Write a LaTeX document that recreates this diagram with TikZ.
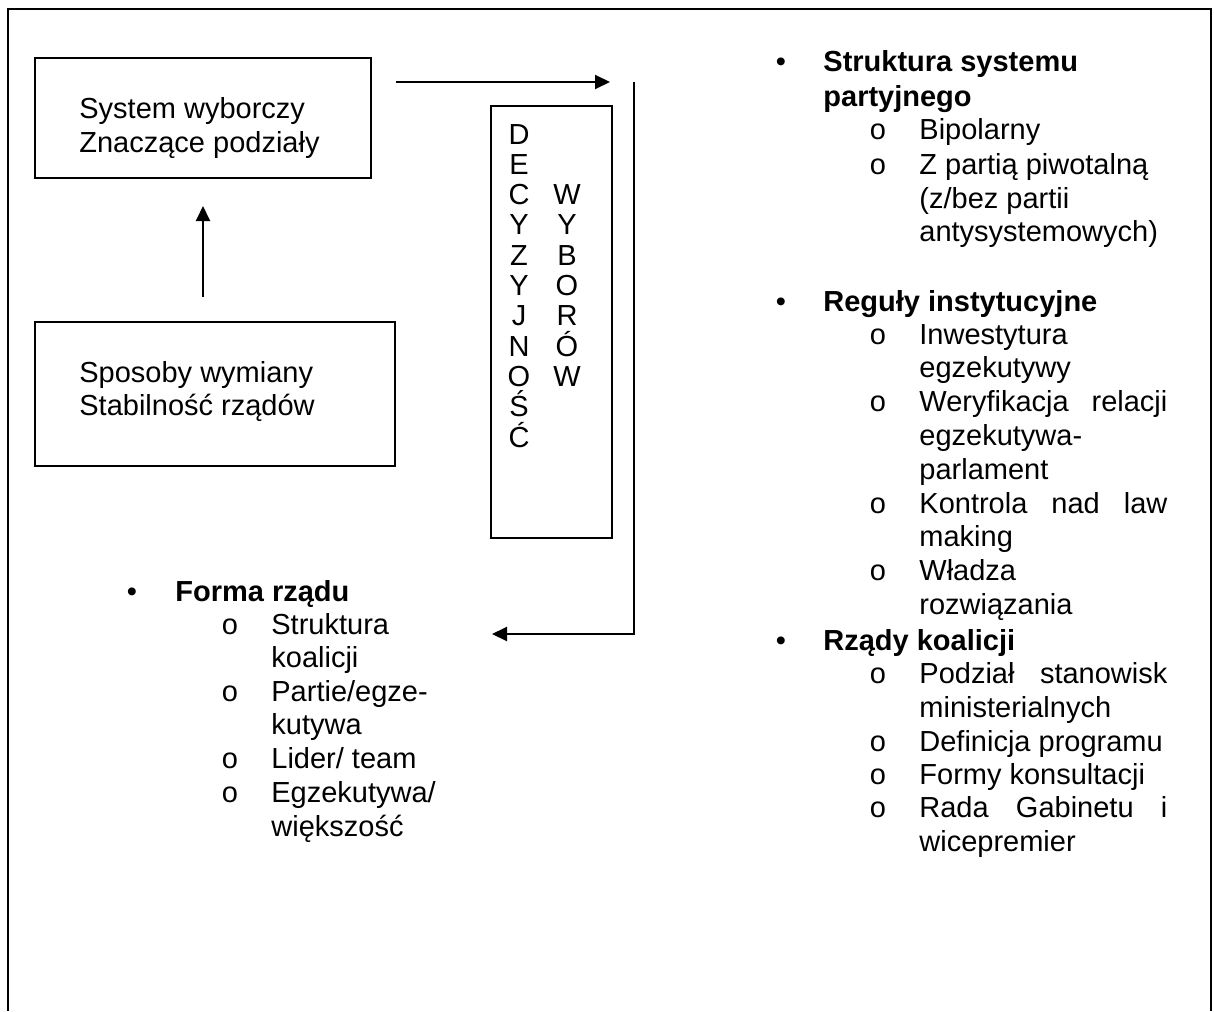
\documentclass[tikz,border=0pt]{standalone}
\usepackage{fontspec}
\setmainfont{Liberation Sans}
\usetikzlibrary{arrows.meta, calc}
\tikzset{
  frame/.style={draw, line width=1pt},
  box/.style={draw, line width=1pt, inner sep=0pt},
  txt/.style={font=\fontsize{14.5}{17}\selectfont, inner sep=0pt, anchor=base west},
  headtxt/.style={txt, font=\fontsize{14.5}{17}\selectfont\bfseries},
  bul/.style={font=\fontsize{14.5}{17}\selectfont, inner sep=0pt, anchor=base},
  letter/.style={font=\fontsize{14.5}{17}\selectfont, inner sep=0pt, anchor=base},
  arr/.style={line width=1pt, -{Triangle[length=7.5pt, width=7pt]}},
}
\newcommand{\jline}[1]{\makebox[124pt][s]{#1}}

\begin{document}
\begin{tikzpicture}[x=0.5pt, y=-0.5pt]
  \useasboundingbox (0,0) rectangle (1214,1011);

  % Frame (open at the bottom)
  \draw[frame] (8,1011) -- (8,9) -- (1211,9) -- (1211,1011);

  % Boxes
  \node[box, minimum width=168pt, minimum height=60pt] (sys) at (203,118) {};
  \node[txt] (sys1) at (79,119) {System wyborczy};
  \node[txt] (sys2) at (79,152) {Znaczące podziały};

  \node[box, minimum width=180pt, minimum height=72pt] (stab) at (215,394) {};
  \node[txt] (stab1) at (79,382) {Sposoby wymiany};
  \node[txt] (stab2) at (79,415) {Stabilność rządów};

  \node[box, minimum width=60.5pt, minimum height=216pt] (dec) at (551.5,322) {};
  \foreach \c [count=\i from 0] in {D,E,C,Y,Z,Y,J,N,O,Ś,Ć}
    \node[letter] (dl\i) at (519,{144+30.3*\i}) {\c};
  \foreach \c [count=\i from 2] in {W,Y,B,O,R,Ó,W}
    \node[letter] (wl\i) at (567,{144+30.3*\i}) {\c};

  % Connectors
  \coordinate (top) at (634,82);
  \coordinate (bot) at (634,634);
  \coordinate (ret) at (492,634);
  \draw[arr, shorten <=12pt, shorten >=13.5pt] (sys.south |- stab.north) -- (sys.south);
  \draw[arr, shorten <=12pt, shorten >=12pt] (sys.east |- top) -- (top);
  \draw[arr] (top) -- (bot) -- (ret);

  % Forma rzadu
  \node[bul] (fb) at (132,601) {•};
  \node[headtxt] (f0) at (175,601) {Forma rządu};
  \node[bul] (fo1) at (230,634) {o};
  \node[txt] (f1) at (271,634) {Struktura};
  \node[txt] (f1b) at (271,667) {koalicji};
  \node[bul] (fo2) at (230,701) {o};
  \node[txt] (f2) at (271,701) {Partie/egze-};
  \node[txt] (f2b) at (271,734) {kutywa};
  \node[bul] (fo3) at (230,768) {o};
  \node[txt] (f3) at (271,768) {Lider/ team};
  \node[bul] (fo4) at (230,802) {o};
  \node[txt] (f4) at (271,802) {Egzekutywa/};
  \node[txt] (f4b) at (271,836) {większość};

  % Struktura systemu partyjnego
  \node[bul] (sb) at (781,72) {•};
  \node[headtxt] (s0) at (823,72) {Struktura systemu};
  \node[headtxt] (s0b) at (823,106) {partyjnego};
  \node[bul] (so1) at (878,140) {o};
  \node[txt] (s1) at (919,140) {Bipolarny};
  \node[bul] (so2) at (878,174) {o};
  \node[txt] (s2) at (919,174) {Z partią piwotalną};
  \node[txt] (s2b) at (919,208) {(z/bez partii};
  \node[txt] (s2c) at (919,241) {antysystemowych)};

  % Reguly instytucyjne
  \node[bul] (rb) at (781,311) {•};
  \node[headtxt] (r0) at (823,311) {Reguły instytucyjne};
  \node[bul] (ro1) at (878,344) {o};
  \node[txt] (r1) at (919,344) {Inwestytura};
  \node[txt] (r1b) at (919,377) {egzekutywy};
  \node[bul] (ro2) at (878,411) {o};
  \node[txt] (r2) at (919,411) {\jline{Weryfikacja relacji}};
  \node[txt] (r2b) at (919,445) {egzekutywa-};
  \node[txt] (r2c) at (919,479) {parlament};
  \node[bul] (ro3) at (878,513) {o};
  \node[txt] (r3) at (919,513) {\jline{Kontrola nad law}};
  \node[txt] (r3b) at (919,546) {making};
  \node[bul] (ro4) at (878,580) {o};
  \node[txt] (r4) at (919,580) {Władza};
  \node[txt] (r4b) at (919,614) {rozwiązania};

  % Rzady koalicji
  \node[bul] (kb) at (781,650) {•};
  \node[headtxt] (k0) at (823,650) {Rządy koalicji};
  \node[bul] (ko1) at (878,683) {o};
  \node[txt] (k1) at (919,683) {\jline{Podział stanowisk}};
  \node[txt] (k1b) at (919,717) {ministerialnych};
  \node[bul] (ko2) at (878,751) {o};
  \node[txt] (k2) at (919,751) {Definicja programu};
  \node[bul] (ko3) at (878,784) {o};
  \node[txt] (k3) at (919,784) {Formy konsultacji};
  \node[bul] (ko4) at (878,817) {o};
  \node[txt] (k4) at (919,817) {\jline{Rada Gabinetu i}};
  \node[txt] (k4b) at (919,851) {wicepremier};

\end{tikzpicture}
\end{document}
